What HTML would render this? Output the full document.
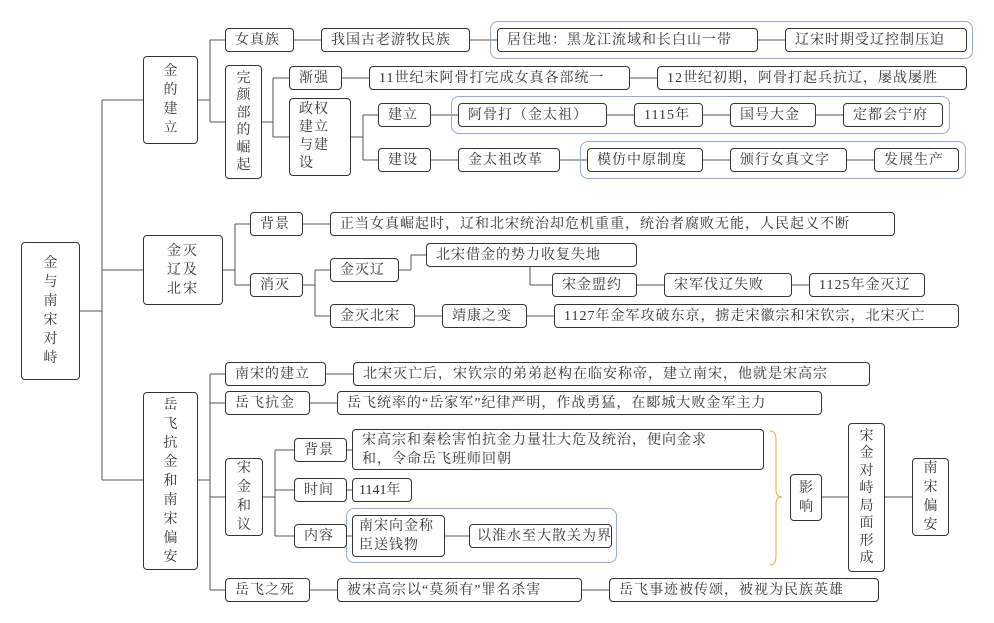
<!DOCTYPE html>
<html><head><meta charset="utf-8"><style>
body{margin:0;width:994px;height:623px;background:#fff;position:relative;overflow:hidden;font-family:"Liberation Serif","Noto Serif CJK SC",serif;}
.b{position:absolute;border:1px solid #333;border-radius:4px;background:#fff;font-size:14px;display:flex;align-items:center;justify-content:flex-start;padding-left:9px;letter-spacing:1px;box-sizing:border-box;color:#333;line-height:19px;text-align:left;white-space:nowrap}
.v{justify-content:center;padding-left:0;text-align:center;letter-spacing:0}
.g{position:absolute;border:1px solid #9aa6e0;border-radius:8px;box-sizing:border-box}
svg{position:absolute;left:0;top:0}
</style></head><body>
<svg width="994" height="623" fill="none" stroke="#555" stroke-width="1">
<path d="M80 311H102M102 100V480M102 100H143M102 270H143M102 480H143"/>
<path d="M198 100H210M210 40V122M210 40H225M210 122H225M294 40H321M470 40H497M758 40H785"/>
<path d="M262 122H273M273 78V137M273 78H289M273 137H289M342 78H369M630 78H657"/>
<path d="M351 137H363M363 115V160M363 115H378M363 160H378M431 115H458M607 115H634M703 115H730M816 115H843M431 160H458M560 160H587M703 160H730M847 160H874"/>
<path d="M223 270H235M235 224V285M235 224H250M235 285H250M303 224H330"/>
<path d="M303 285H315M315 270V316M315 270H330M315 316H330M399 270H411M411 255V270M411 255H426M530 267V285M530 285H552M637 285H664M792 285H809M415 316H442M527 316H554"/>
<path d="M198 480H210M210 374V590M210 374H225M210 403H225M210 497H225M210 590H225M326 374H353M310 403H337M310 590H337M582 590H609"/>
<path d="M263 497H275M275 450V536M275 450H294M275 490H294M275 536H294M347 450H352M347 490H352M347 536H352M445 536H469"/>
<path d="M822 497H848M885 497H912"/>
<path d="M770 431Q776 431 776 440V490Q776 497 782 497Q776 497 776 504V556Q776 565 770 565" stroke="#e8a93a"/>
</svg>
<div class="b v" style="left:21px;top:242px;width:59px;height:138px">金<br>与<br>南<br>宋<br>对<br>峙</div>
<div class="b v" style="left:143px;top:56px;width:55px;height:88px">金<br>的<br>建<br>立</div>
<div class="b v" style="left:143px;top:235px;width:80px;height:70px;letter-spacing:2px">金灭<br>辽及<br>北宋</div>
<div class="b v" style="left:143px;top:392px;width:55px;height:178px">岳<br>飞<br>抗<br>金<br>和<br>南<br>宋<br>偏<br>安</div>

<div class="g" style="left:490px;top:21px;width:483px;height:38px"></div>
<div class="b" style="left:225px;top:28px;width:69px;height:24px">女真族</div>
<div class="b" style="left:321px;top:28px;width:149px;height:24px">我国古老游牧民族</div>
<div class="b" style="left:497px;top:28px;width:261px;height:24px">居住地：黑龙江流域和长白山一带</div>
<div class="b" style="left:785px;top:28px;width:182px;height:24px">辽宋时期受辽控制压迫</div>
<div class="b v" style="left:225px;top:65px;width:37px;height:114px;line-height:17.5px">完<br>颜<br>部<br>的<br>崛<br>起</div>
<div class="b" style="left:289px;top:66px;width:53px;height:24px">渐强</div>
<div class="b" style="left:369px;top:66px;width:261px;height:24px">11世纪末阿骨打完成女真各部统一</div>
<div class="b" style="left:657px;top:66px;width:310px;height:24px">12世纪初期，阿骨打起兵抗辽，屡战屡胜</div>
<div class="b" style="left:289px;top:98px;width:62px;height:78px;line-height:18px">政权<br>建立<br>与建<br>设</div>
<div class="g" style="left:451px;top:96px;width:499px;height:38px"></div>
<div class="b" style="left:378px;top:103px;width:53px;height:24px">建立</div>
<div class="b" style="left:458px;top:103px;width:149px;height:24px">阿骨打（金太祖）</div>
<div class="b" style="left:634px;top:103px;width:69px;height:24px">1115年</div>
<div class="b" style="left:730px;top:103px;width:86px;height:24px">国号大金</div>
<div class="b" style="left:843px;top:103px;width:100px;height:24px">定都会宁府</div>
<div class="g" style="left:580px;top:141px;width:386px;height:38px"></div>
<div class="b" style="left:378px;top:148px;width:53px;height:24px">建设</div>
<div class="b" style="left:458px;top:148px;width:102px;height:24px">金太祖改革</div>
<div class="b" style="left:587px;top:148px;width:116px;height:24px">模仿中原制度</div>
<div class="b" style="left:730px;top:148px;width:117px;height:24px">颁行女真文字</div>
<div class="b" style="left:874px;top:148px;width:85px;height:24px">发展生产</div>

<div class="b" style="left:250px;top:212px;width:53px;height:24px">背景</div>
<div class="b" style="left:330px;top:212px;width:565px;height:24px">正当女真崛起时，辽和北宋统治却危机重重，统治者腐败无能，人民起义不断</div>
<div class="b" style="left:250px;top:273px;width:53px;height:24px">消灭</div>
<div class="b" style="left:330px;top:258px;width:69px;height:24px">金灭辽</div>
<div class="b" style="left:426px;top:243px;width:211px;height:24px">北宋借金的势力收复失地</div>
<div class="b" style="left:552px;top:273px;width:85px;height:24px">宋金盟约</div>
<div class="b" style="left:664px;top:273px;width:128px;height:24px">宋军伐辽失败</div>
<div class="b" style="left:809px;top:273px;width:116px;height:24px">1125年金灭辽</div>
<div class="b" style="left:330px;top:304px;width:85px;height:24px">金灭北宋</div>
<div class="b" style="left:442px;top:304px;width:85px;height:24px">靖康之变</div>
<div class="b" style="left:554px;top:304px;width:405px;height:24px">1127年金军攻破东京，掳走宋徽宗和宋钦宗，北宋灭亡</div>

<div class="b" style="left:225px;top:362px;width:101px;height:24px">南宋的建立</div>
<div class="b" style="left:353px;top:362px;width:517px;height:24px">北宋灭亡后，宋钦宗的弟弟赵构在临安称帝，建立南宋，他就是宋高宗</div>
<div class="b" style="left:225px;top:391px;width:85px;height:24px">岳飞抗金</div>
<div class="b" style="left:337px;top:391px;width:485px;height:24px">岳飞统率的“岳家军”纪律严明，作战勇猛，在郾城大败金军主力</div>
<div class="b v" style="left:225px;top:458px;width:38px;height:78px">宋<br>金<br>和<br>议</div>
<div class="b" style="left:294px;top:438px;width:53px;height:24px">背景</div>
<div class="b" style="left:352px;top:429px;width:412px;height:41px">宋高宗和秦桧害怕抗金力量壮大危及统治，便向金求<br>和，令命岳飞班师回朝</div>
<div class="b" style="left:294px;top:478px;width:53px;height:24px">时间</div>
<div class="b" style="left:352px;top:478px;width:60px;height:24px;padding-left:6px;letter-spacing:0">1141年</div>
<div class="g" style="left:346px;top:508px;width:271px;height:55px"></div>
<div class="b" style="left:294px;top:524px;width:53px;height:24px">内容</div>
<div class="b" style="left:352px;top:515px;width:93px;height:42px;padding-left:6px">南宋向金称<br>臣送钱物</div>
<div class="b" style="left:469px;top:524px;width:143px;height:24px;padding-left:7px">以淮水至大散关为界</div>
<div class="b v" style="left:790px;top:474px;width:32px;height:47px">影<br>响</div>
<div class="b v" style="left:848px;top:423px;width:37px;height:149px;line-height:17.5px">宋<br>金<br>对<br>峙<br>局<br>面<br>形<br>成</div>
<div class="b v" style="left:912px;top:458px;width:37px;height:78px">南<br>宋<br>偏<br>安</div>
<div class="b" style="left:225px;top:578px;width:85px;height:24px">岳飞之死</div>
<div class="b" style="left:337px;top:578px;width:245px;height:24px">被宋高宗以“莫须有”罪名杀害</div>
<div class="b" style="left:609px;top:578px;width:270px;height:24px">岳飞事迹被传颂，被视为民族英雄</div>
</body></html>
